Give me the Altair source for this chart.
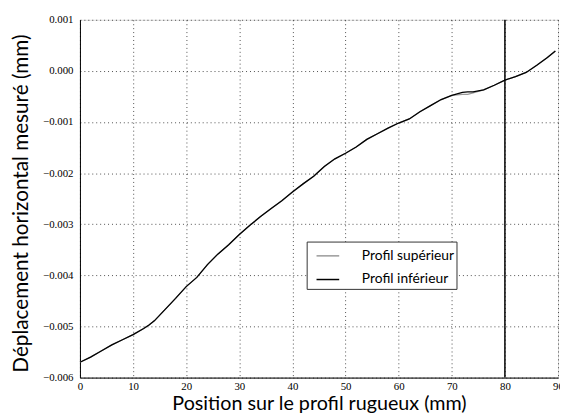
import altair as alt
import pandas as pd

# Position along the profile (mm)
positions = [0, 2, 4, 6, 8, 10, 12, 13, 14, 16, 18, 20, 22, 24, 26, 28, 30,
             32, 34, 36, 38, 40, 42, 44, 46, 48, 50, 52, 54, 56, 58, 60, 62,
             64, 66, 68, 70, 71, 72, 73, 74, 76, 78, 80, 82, 84, 86, 88, 89.5]

# Lower profile (black)
inferieur = [-0.00570, -0.00560, -0.00548, -0.00536, -0.00526, -0.00516,
             -0.00504, -0.00497, -0.00489, -0.00467, -0.00445, -0.00422,
             -0.00404, -0.00379, -0.00358, -0.00340, -0.00320, -0.00302,
             -0.00285, -0.00269, -0.00254, -0.00237, -0.00221, -0.00206,
             -0.00187, -0.00172, -0.00161, -0.00149, -0.00134, -0.00123,
             -0.00112, -0.00102, -0.00094, -0.00080, -0.00068, -0.00056,
             -0.00048, -0.00045, -0.00042, -0.00041, -0.00041, -0.00037,
             -0.00028, -0.00018, -0.00011, -0.00003, 0.00011, 0.00026, 0.00039]

# Upper profile (grey) - same except a small dip near 70-75 mm
superieur = [-0.00570, -0.00560, -0.00548, -0.00536, -0.00526, -0.00516,
             -0.00504, -0.00497, -0.00489, -0.00467, -0.00445, -0.00422,
             -0.00404, -0.00379, -0.00358, -0.00340, -0.00320, -0.00302,
             -0.00285, -0.00269, -0.00254, -0.00237, -0.00221, -0.00206,
             -0.00187, -0.00172, -0.00161, -0.00149, -0.00134, -0.00123,
             -0.00112, -0.00102, -0.00094, -0.00080, -0.00068, -0.00056,
             -0.00048, -0.00047, -0.00046, -0.00046, -0.00043, -0.00037,
             -0.00028, -0.00018, -0.00011, -0.00003, 0.00011, 0.00026, 0.00039]

series_names = ["Profil supérieur", "Profil inférieur"]
series_colors = ["#999999", "#000000"]
x_ticks = [0, 10, 20, 30, 40, 50, 60, 70, 80, 90]
y_ticks = [-0.006, -0.005, -0.004, -0.003, -0.002, -0.001, 0.0, 0.001]
vline_x = [80]

df_sup = pd.DataFrame({"x": positions, "y": superieur, "s": series_names[0]})
df_inf = pd.DataFrame({"x": positions, "y": inferieur, "s": series_names[1]})
df_v = pd.DataFrame({"x": vline_x})

label_font = "Liberation Serif"
title_font = "Lato"

x_enc = alt.X("x:Q", scale=alt.Scale(domain=[0, 90], nice=False, zero=False),
              axis=alt.Axis(values=x_ticks, title="Position sur le profil rugueux (mm)",
                            labelFont=label_font, labelFontSize=11, labelPadding=3,
                            labelColor="black", labelFlush=False,
                            titleFont=title_font, titleFontSize=20, titleFontWeight="normal",
                            titleColor="black", titleY=32, titleBaseline="alphabetic",
                            grid=True, gridColor="black", gridDash=[1, 3], gridWidth=0.7,
                            ticks=False, domainColor="black"))
y_enc = alt.Y("y:Q", scale=alt.Scale(domain=[-0.006, 0.001], nice=False, zero=False),
              axis=alt.Axis(values=y_ticks, title="Déplacement horizontal mesuré (mm)",
                            labelExpr="replace(format(datum.value, '.3f'), '-', '\u2212')",
                            labelFont=label_font, labelFontSize=11, labelPadding=7,
                            labelColor="black", labelFlush=False,
                            titleFont=title_font, titleFontSize=21, titleFontWeight="normal",
                            titleColor="black", titleX=-59, titleY=186, titleAngle=-90,
                            titleBaseline="middle",
                            grid=True, gridColor="black", gridDash=[1, 3], gridWidth=0.7,
                            ticks=False, domainColor="black"))

color_enc = alt.Color("s:N", scale=alt.Scale(domain=series_names, range=series_colors),
                      legend=alt.Legend(title=None, orient="none", legendX=230, legendY=225,
                                        symbolType="stroke", symbolSize=529,
                                        symbolStrokeWidth=1.5, symbolOffset=7,
                                        labelFont=title_font,
                                        labelFontSize=14, labelColor="black",
                                        labelOffset=22, rowPadding=4,
                                        padding=2, strokeColor="#333333",
                                        fillColor="white", cornerRadius=0))

sup = alt.Chart(df_sup).mark_line(strokeWidth=1.3).encode(x=x_enc, y=y_enc, color=color_enc)
inf = alt.Chart(df_inf).mark_line(strokeWidth=1.3).encode(x=x_enc, y=y_enc, color=color_enc)
vline = alt.Chart(df_v).mark_rule(color="black", strokeWidth=1.5).encode(x="x:Q")

chart = alt.layer(sup, inf, vline).properties(
    width=485, height=363,
    autosize=alt.AutoSizeParams(type="none"),
    padding={"left": 73, "top": 9, "right": 2, "bottom": 36},
).configure_view(stroke="black", strokeWidth=1).configure(background="white")

chart.save("out.html", embed_options={"renderer": "svg", "actions": False})
